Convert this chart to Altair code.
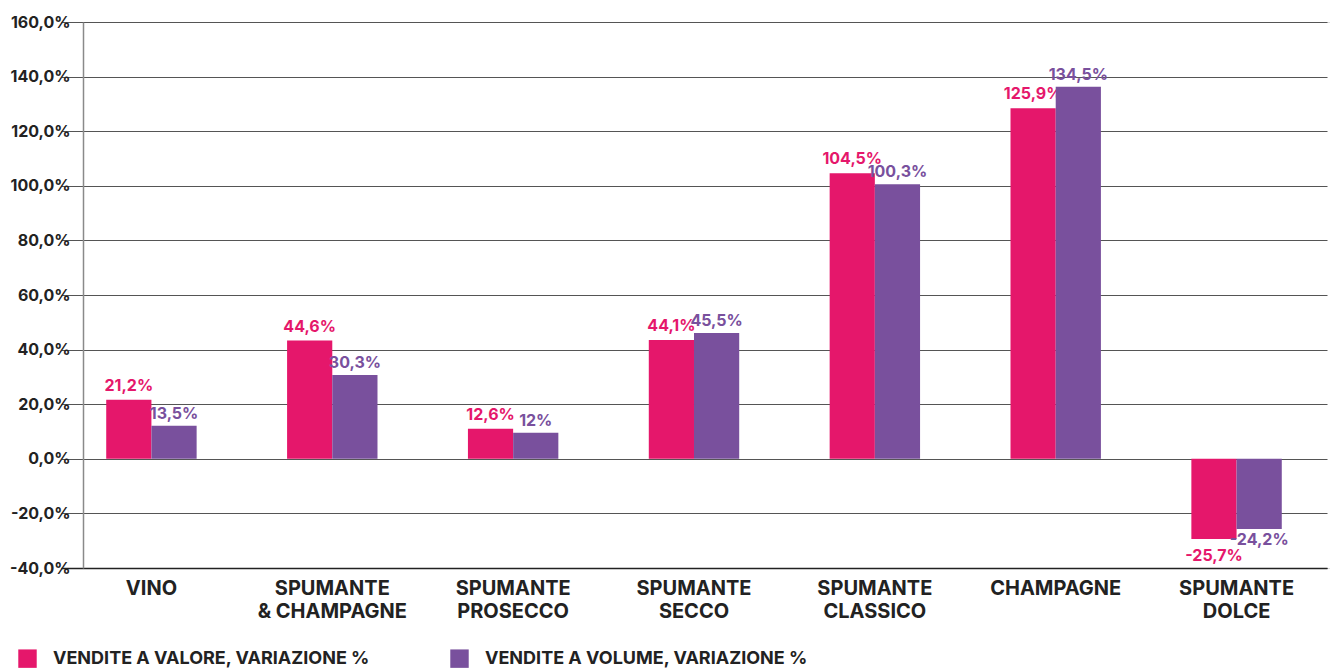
import altair as alt
import pandas as pd

categories = ["VINO", "SPUMANTE|& CHAMPAGNE", "SPUMANTE|PROSECCO", "SPUMANTE|SECCO",
              "SPUMANTE|CLASSICO", "CHAMPAGNE", "SPUMANTE|DOLCE"]
series = ["VENDITE A VALORE, VARIAZIONE %", "VENDITE A VOLUME, VARIAZIONE %"]
colors = ["#E5176B", "#79509D"]

# bar heights as drawn in the reference
valore_bars = [21.6, 43.3, 11.0, 43.5, 104.6, 128.4, -29.4]
volume_bars = [12.1, 30.7, 9.5, 46.1, 100.6, 136.3, -25.7]
# data labels as printed in the reference
valore_labels = ["21,2%", "44,6%", "12,6%", "44,1%", "104,5%", "125,9%", "-25,7%"]
volume_labels = ["13,5%", "30,3%", "12%", "45,5%", "100,3%", "134,5%", "-24,2%"]

y_ticks = [-40, -20, 0, 20, 40, 60, 80, 100, 120, 140, 160]

rows = []
for c, v, l in zip(categories, valore_bars, valore_labels):
    rows.append({"cat": c, "serie": series[0], "v": v, "lab": l})
for c, v, l in zip(categories, volume_bars, volume_labels):
    rows.append({"cat": c, "serie": series[1], "v": v, "lab": l})
df = pd.DataFrame(rows)

FONT = "Inter"

x_enc = alt.X("cat:N", sort=categories, title=None,
              scale=alt.Scale(range=[-22, 1244], paddingInner=0.5, paddingOuter=0.25),
              axis=alt.Axis(labelExpr="split(datum.label, '|')", labelAngle=0,
                            labelFont=FONT, labelFontSize=20, labelFontWeight="bold",
                            labelColor="#222222", labelLineHeight=23, labelPadding=10,
                            ticks=False, domainColor="#222222", domainWidth=1.5,
                            grid=False))
xoff = alt.XOffset("serie:N", sort=series, scale=alt.Scale(paddingInner=0, paddingOuter=0))
y_enc = alt.Y("v:Q", title=None,
              scale=alt.Scale(domain=[-40, 160], nice=False, zero=False),
              axis=alt.Axis(values=y_ticks, labelExpr="datum.value + ',0%'",
                            labelFont=FONT, labelFontSize=16, labelFontWeight="bold",
                            labelColor="#222222", labelPadding=13, ticks=False,
                            domainColor="#8a8a8a", domainWidth=1.5,
                            gridColor="#555555", gridWidth=1.2))
color_enc = alt.Color("serie:N", sort=series,
                      scale=alt.Scale(domain=series, range=colors),
                      legend=alt.Legend(title=None, orient="none", legendX=-65, legendY=627,
                                        direction="horizontal", columns=2,
                                        symbolType="square", symbolSize=340,
                                        symbolStrokeWidth=0, symbolOpacity=1,
                                        labelFont=FONT, labelFontSize=18,
                                        labelFontWeight="bold", labelColor="#222222",
                                        labelOffset=16, columnPadding=80, padding=0,
                                        labelLimit=500))

pos_dy = [-6, -4]
neg_dy = [9, 3]

base = alt.Chart(df)
layers = []
for i, s in enumerate(series):
    sel = base.transform_filter(alt.datum.serie == s)
    bars = sel.mark_bar(size=45.2).encode(x=x_enc, xOffset=xoff, y=y_enc, color=color_enc)
    pos = sel.transform_filter(alt.datum.v >= 0).mark_text(
        baseline="bottom", dy=pos_dy[i], font=FONT, fontSize=16, fontWeight="bold"
    ).encode(x=x_enc, xOffset=xoff, y=y_enc, text="lab:N",
             color=alt.Color("serie:N", scale=alt.Scale(domain=series, range=colors), legend=None))
    neg = sel.transform_filter(alt.datum.v < 0).mark_text(
        baseline="top", dy=neg_dy[i], font=FONT, fontSize=16, fontWeight="bold"
    ).encode(x=x_enc, xOffset=xoff, y=y_enc, text="lab:N",
             color=alt.Color("serie:N", scale=alt.Scale(domain=series, range=colors), legend=None))
    layers += [bars, pos, neg]

chart = alt.layer(*layers).properties(
    width=1247, height=546,
    autosize=alt.AutoSizeParams(type="none"),
    padding={"left": 83, "top": 22, "right": 0, "bottom": 101},
).configure_view(stroke=None).configure(background="white")

chart.save("out.html", embed_options={"renderer": "svg", "actions": False})
